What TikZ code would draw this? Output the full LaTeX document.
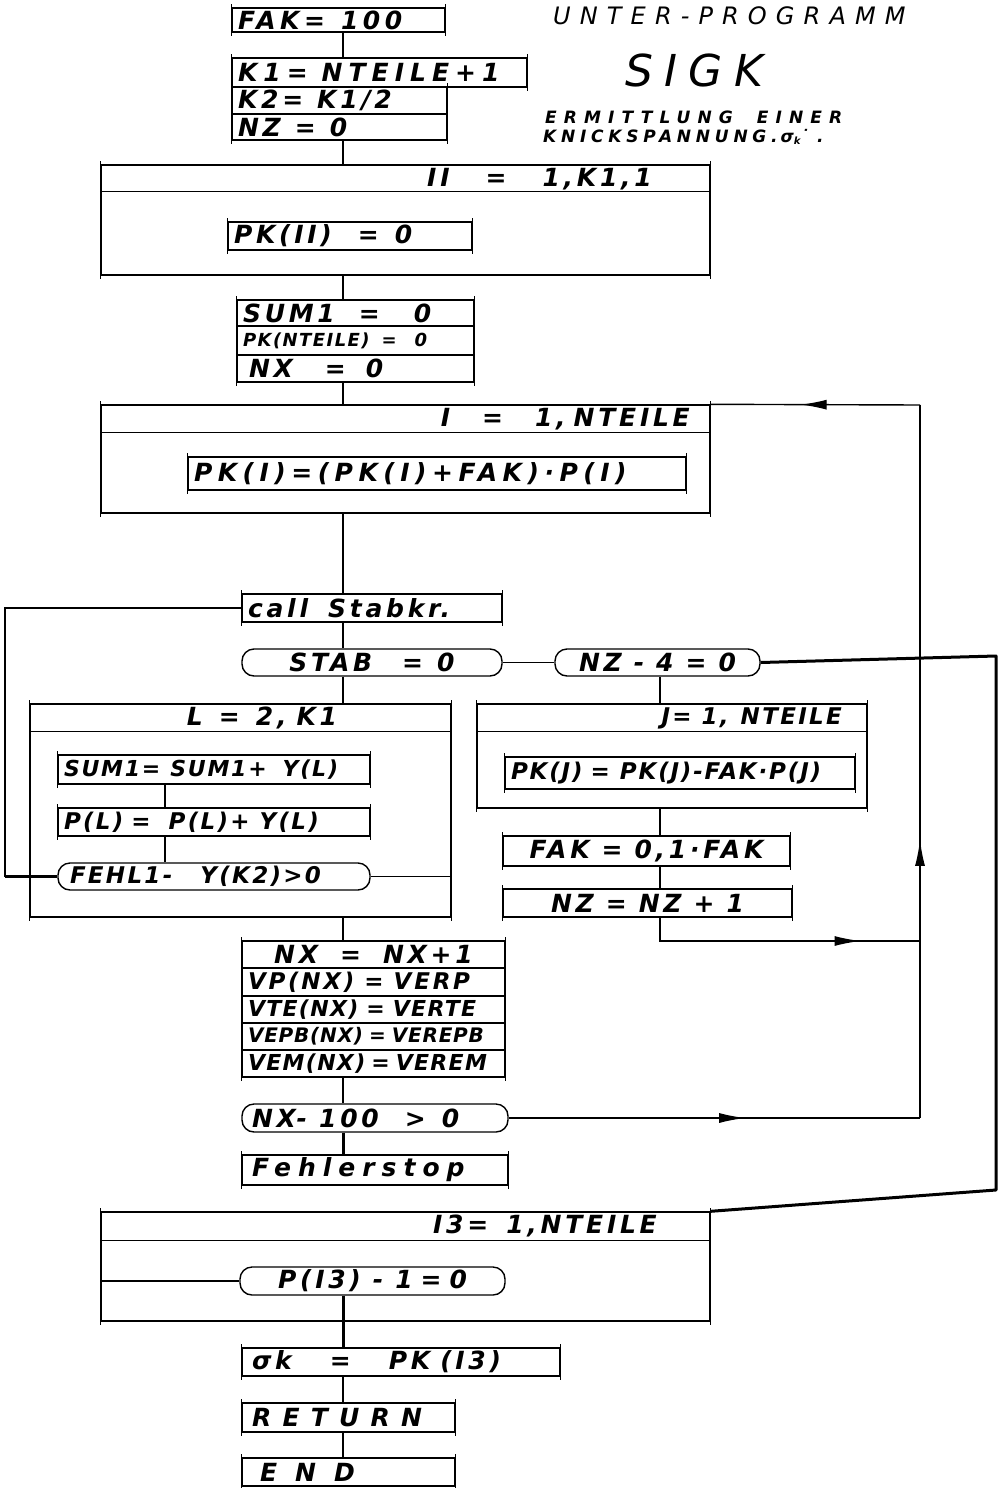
\documentclass[tikz,border=0pt]{standalone}
\usepackage{fontspec}
\setmainfont{DejaVu Sans}
\newfontfamily\hand{DejaVu Sans}[LetterSpace=15]
\usetikzlibrary{arrows.meta,decorations.markings,calc}
\newcommand\mytx[1]{\mbox{#1}}
\newcommand\gp[1]{\hspace{#1pt}}
\begin{document}
\begin{tikzpicture}[x=1pt,y=-1pt,
  every node/.style={font=\hand\bfseries\itshape\fontsize{25}{27}\selectfont, text=black},
  fs/.style 2 args={font=\hand\bfseries\itshape\fontsize{#1}{#1}\selectfont\addfontfeature{LetterSpace=#2}},
  ft/.style 2 args={font=\hand\itshape\fontsize{#1}{#1}\selectfont\addfontfeature{LetterSpace=#2}},
  box/.style={draw, line width=1.4pt, inner xsep=6pt, inner ysep=0pt, align=left},
  cbox/.style={box, align=center},
  rbox/.style={draw, line width=1.4pt, inner xsep=6pt, inner ysep=0pt, rounded corners=12pt, align=center},
  loopbox/.style={draw, line width=1.4pt, inner sep=0pt},
  lbl/.style={inner sep=0pt},
  conn/.style={line width=1.4pt},
  heavy/.style={line width=3pt},
  arr/.style={postaction={decorate}, decoration={markings, mark=at position #1 with {\arrow{Latex[length=26pt,width=10pt]}}}}
]
\fill[white] (0,0) rectangle (1004,1488);
\path[use as bounding box] (0,0) rectangle (1004,1488);

% helper coordinates
\coordinate (sp) at (343,0);
\coordinate (jx) at (660,0);
\coordinate (lx) at (165,0);
\coordinate (lft) at (5,0);
\coordinate (r1) at (920,405);
\coordinate (r2) at (920,1118);
\coordinate (r3) at (920,941);
\coordinate (ra) at (996,656);
\coordinate (rb) at (996,1190);

% title
\node[lbl, anchor=west, ft={24}{38}] (t1) at (553,16) {UNTER-PROGRAMM};
\node[lbl, anchor=west, ft={44}{26}] (t2) at (625,70) {SIGK};
\node[lbl, anchor=west, fs={17}{42}] (t3) at (545,117) {ERMITTLUNG\gp{24}EINER};
\node[lbl, anchor=west, fs={17}{28}] (t4) at (543,137) {KNICKSPANNUNG.\gp{3}σ\raisebox{-2pt}{\fontsize{10}{10}\selectfont k}˙\gp{8}.};

% top block
\node[box, text width=201, minimum height=24, fs={25}{18}] (fak) at (338.5,20) {\mytx{FAK=\gp{16}100}};
\node[box, text width=283, minimum height=29, fs={25}{24}] (k1) at (379.5,72.5) {\mytx{K1=\gp{14}NTEILE+1}};
\node[box, text width=203, minimum height=27] (k2) at (339.5,100.5) {\mytx{K2=\gp{14}K1/2}};
\node[box, text width=203, minimum height=26] (nz) at (339.5,127) {\mytx{NZ\gp{14}=\gp{14}0}};

% II loop
\node[loopbox, minimum width=609, minimum height=110] (ii) at (405.5,220) {};
\draw[conn] ($(ii.north west)+(0,27)$) -- ($(ii.north east)+(0,27)$);
\node[lbl, anchor=east] (iih) at (652,179) {\mytx{II\gp{36}=\gp{36}1,K1,1}};
\node[box, text width=232, minimum height=28] (pkii) at (350,236) {\mytx{PK(II)\gp{26}=\gp{16}0}};

\node[box, text width=225, minimum height=26] (sum1) at (355.5,313) {\mytx{SUM1\gp{24}=\gp{34}0}};
\node[box, text width=225, minimum height=29, fs={18}{8}] (pkn) at (355.5,340.5) {\mytx{PK(NTEILE)\gp{12}=\gp{18}0}};
\node[box, text width=225, minimum height=27] (nx0) at (355.5,368.5) {\mytx{\gp{6}NX\gp{32}=\gp{20}0}};

% I loop
\node[loopbox, minimum width=609, minimum height=108] (iloop) at (405.5,459) {};
\draw[conn] ($(iloop.north west)+(0,28)$) -- ($(iloop.north east)+(0,28)$);
\node[lbl, anchor=east] (ilh) at (690,419) {\mytx{I\gp{32}=\gp{32}1,\gp{8}NTEILE}};
\node[box, text width=486, minimum height=33, fs={25}{22}] (pki) at (437,473.5) {\mytx{PK(I)=(PK(I)+FAK)·P(I)}};

% call
\node[box, text width=248, minimum height=28] (call) at (372,608) {\mytx{call\gp{20}Stabkr.}};
\node[rbox, minimum width=260, minimum height=27] (stab) at (372,662.5) {\mytx{STAB\gp{30}=\gp{14}0}};
\node[rbox, minimum width=205, minimum height=27] (nz4) at (657.5,662.5) {\mytx{NZ\gp{12}-\gp{12}4\gp{12}=\gp{12}0}};

% L loop
\node[loopbox, minimum width=421, minimum height=213] (lloop) at (240.5,810.5) {};
\draw[conn] ($(lloop.north west)+(0,28)$) -- ($(lloop.north east)+(0,28)$);
\node[lbl] (llh) at (262,718) {\mytx{L\gp{16}=\gp{16}2,\gp{10}K1}};
\node[box, text width=300, minimum height=29, fs={22}{8}] (sumy) at (214,769.5) {\mytx{SUM1=\gp{10}SUM1+\gp{16}Y(L)}};
\node[box, text width=300, minimum height=28, fs={23}{10}] (ply) at (214,822) {\mytx{P(L)\gp{8}=\gp{18}P(L)+\gp{10}Y(L)}};
\node[rbox, align=left, text width=288, minimum height=27, inner xsep=12pt, fs={23}{10}] (fehl) at (214,876.5) {\mytx{FEHL1-\gp{28}Y(K2)>0}};

% J loop
\node[loopbox, minimum width=390, minimum height=104] (jloop) at (672,756) {};
\draw[conn] ($(jloop.north west)+(0,28)$) -- ($(jloop.north east)+(0,28)$);
\node[lbl, anchor=east, fs={23}{10}] (jlh) at (842,718) {\mytx{J=\gp{10}1,\gp{12}NTEILE}};
\node[box, text width=338, minimum height=32, fs={23}{8}] (pkj) at (680,773) {\mytx{PK(J)\gp{8}=\gp{10}PK(J)-FAK·P(J)}};
\node[cbox, text width=275, minimum height=30] (fak01) at (646.5,851) {\mytx{FAK\gp{12}=\gp{12}0,1·FAK}};
\node[cbox, text width=277, minimum height=28] (nzp) at (647.5,903) {\mytx{NZ\gp{12}=\gp{12}NZ\gp{12}+\gp{12}1}};

% NX block
\node[cbox, text width=251, minimum height=27] (nxp1) at (373.5,954.5) {\mytx{NX\gp{22}=\gp{22}NX+1}};
\node[box, text width=251, minimum height=28, fs={23}{12}] (vp) at (373.5,982) {\mytx{VP(NX)\gp{10}=\gp{10}VERP}};
\node[box, text width=251, minimum height=27, fs={22}{6}] (vte) at (373.5,1009.5) {\mytx{VTE(NX)\gp{8}=\gp{8}VERTE}};
\node[box, text width=251, minimum height=27, fs={20}{4}] (vepb) at (373.5,1036.5) {\mytx{VEPB(NX)\gp{6}=\gp{6}VEREPB}};
\node[box, text width=251, minimum height=27, fs={22}{6}] (vem) at (373.5,1063.5) {\mytx{VEM(NX)\gp{6}=\gp{6}VEREM}};
\node[rbox, align=left, text width=246, minimum height=28, inner xsep=10pt] (nx100) at (375,1118) {\mytx{NX-\gp{12}100\gp{26}>\gp{16}0}};
\node[box, text width=246, minimum height=30, inner xsep=10pt, fs={25}{28}] (fstop) at (375,1170) {\mytx{Fehlerstop}};

% I3 loop
\node[loopbox, minimum width=609, minimum height=109] (i3loop) at (405.5,1266.5) {};
\draw[conn] ($(i3loop.north west)+(0,29)$) -- ($(i3loop.north east)+(0,29)$);
\node[lbl, anchor=east] (i3h) at (657,1226) {\mytx{I3=\gp{18}1,NTEILE}};
\node[rbox, minimum width=265, minimum height=28] (pi3) at (372.5,1281) {\mytx{P(I3)\gp{12}-\gp{12}1\gp{8}=\gp{8}0}};

% end block
\node[box, text width=298, minimum height=28, inner xsep=10pt] (sigk) at (401,1362) {\mytx{σk\gp{38}=\gp{38}PK\gp{10}(I3)}};
\node[box, text width=193, minimum height=29, inner xsep=10pt, fs={25}{45}] (ret) at (348.5,1417.5) {\mytx{RETURN}};
\node[box, text width=177, minimum height=28, inner xsep=18pt] (endn) at (348.5,1472) {\mytx{E\gp{18}N\gp{18}D}};

% ticks on box sides
\foreach \n in {fak,k1,k2,nz,ii,pkii,sum1,pkn,nx0,iloop,pki,call,lloop,sumy,ply,jloop,pkj,fak01,nzp,nxp1,vp,vte,vepb,vem,fstop,i3loop,sigk,ret,endn}{
  \draw[conn] ($(\n.north west)+(0,-3)$) -- ($(\n.south west)+(0,3)$);
  \draw[conn] ($(\n.north east)+(0,-3)$) -- ($(\n.south east)+(0,3)$);
}

% connectors
\draw[conn] (fak.south -| sp) -- (k1.north -| sp);
\draw[conn] (nz.south -| sp) -- (ii.north -| sp);
\draw[conn] (ii.south -| sp) -- (sum1.north -| sp);
\draw[conn] (nx0.south -| sp) -- (iloop.north -| sp);
\draw[conn] (iloop.south -| sp) -- (call.north -| sp);
\draw[conn] (call.south -| sp) -- (stab.north -| sp);
\draw[conn] (stab.east) -- (nz4.west);
\draw[conn] (stab.south -| sp) -- (lloop.north -| sp);
\draw[conn] (nz4.south -| jx) -- (jloop.north -| jx);
\draw[conn] (jloop.south -| jx) -- (fak01.north -| jx);
\draw[conn] (fak01.south -| jx) -- (nzp.north -| jx);
\draw[conn, arr=0.79] (nzp.south -| jx) -- (jx |- r3) -- (r3);
\draw[conn] (sumy.south -| lx) -- (ply.north -| lx);
\draw[conn] (ply.south -| lx) -- (fehl.north -| lx);
\draw[conn] (fehl.east) -- (fehl.east -| lloop.east);
\draw[conn] (call.west) -- (call.west -| lft) -- (fehl.west -| lft) -- (fehl.west);
\draw[heavy] (fehl.west -| lft) -- (fehl.west);
\draw[conn] (lloop.south -| sp) -- (nxp1.north -| sp);
\draw[conn] (vem.south -| sp) -- (nx100.north -| sp);
\draw[heavy] (nx100.south -| sp) -- (fstop.north -| sp);
\draw[conn, arr=0.575] (nx100.east) -- (r2);
\draw[conn, arr=0.39] (r2) -- (r1);
\draw[conn, arr=0.57] (r1) -- (iloop.north east);
\draw[heavy, line join=round] (nz4.east) -- (ra) -- (rb) -- (i3loop.north east);
\draw[conn] (i3loop.west |- pi3.west) -- (pi3.west);
\draw[heavy] (pi3.south -| sp) -- (sigk.north -| sp);
\draw[conn] (sigk.south -| sp) -- (ret.north -| sp);
\draw[conn] (ret.south -| sp) -- (endn.north -| sp);
\end{tikzpicture}
\end{document}
